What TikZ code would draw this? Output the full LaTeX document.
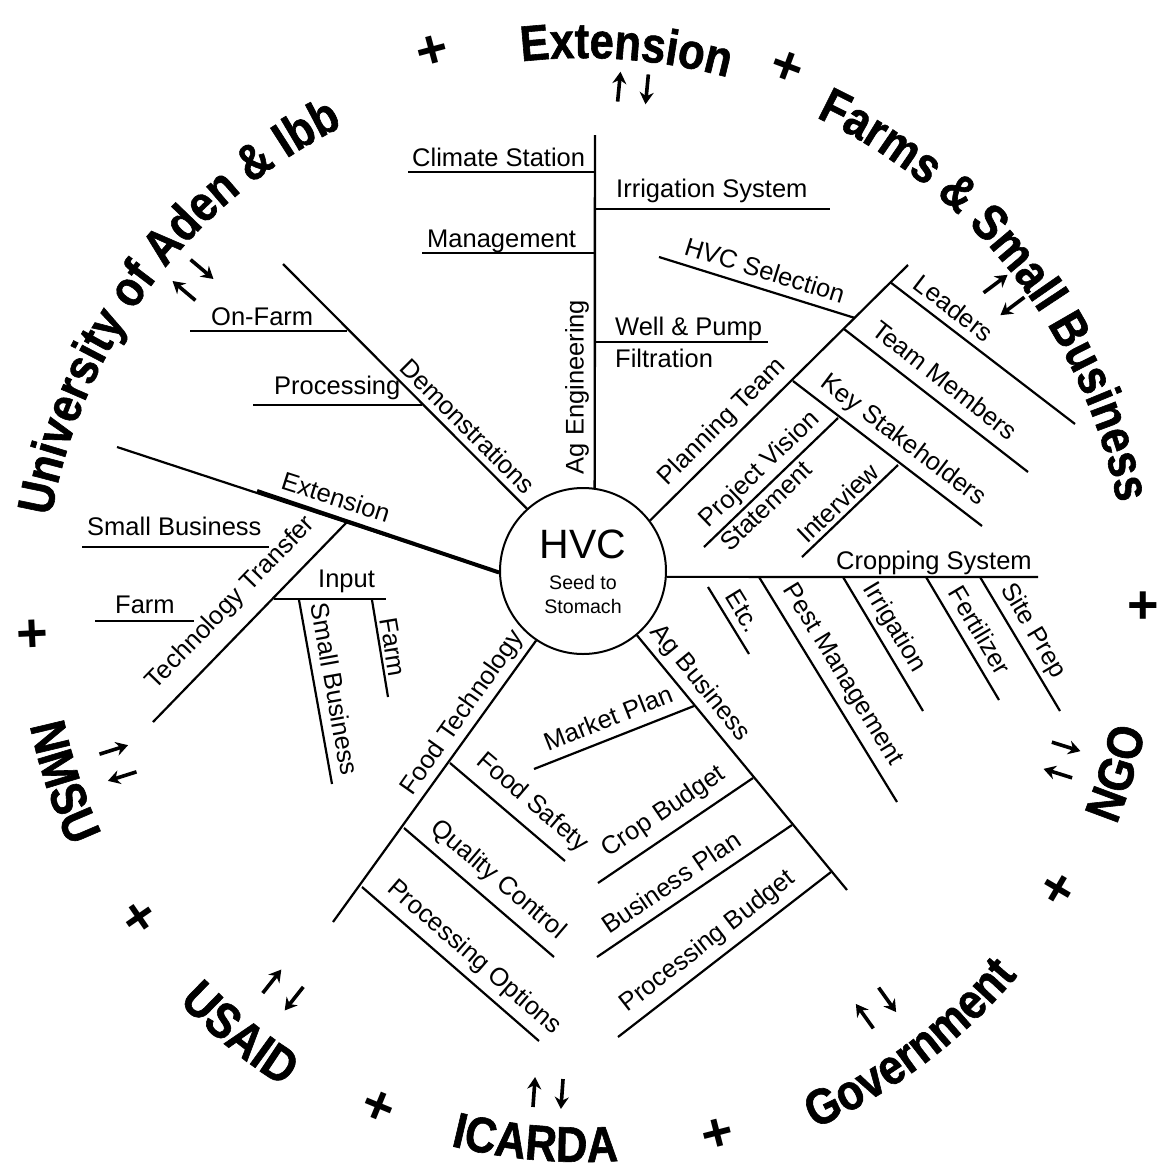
\documentclass[tikz,border=0pt]{standalone}
\usepackage{fontspec}
\setmainfont{Liberation Sans}
\newfontfamily\outerfont{Liberation Sans}[FakeStretch=0.87, FakeBold=1.2]
\usetikzlibrary{decorations.text,arrows.meta}
\newcommand\ofnt{\outerfont\bfseries\fontsize{50}{50}\selectfont}
\tikzset{
  lab/.style={font=\fontsize{25.5}{30}\selectfont, inner sep=0pt},
  ln/.style={line width=2.2pt},
  arr/.style={line width=3.6pt, -{Stealth[length=12pt,width=14pt]}},
  plusmark/.style={font=\bfseries\fontsize{54}{54}\selectfont, inner sep=0pt},
  toplabel/.style={decorate, decoration={text along path, text={|\ofnt|#1}, text align=center}},
}
\begin{document}
\begin{tikzpicture}[x=1pt,y=-1pt]
\fill[white] (0,0) rectangle (1157,1171);
\useasboundingbox (0,0) rectangle (1157,1171);

% ---------- centre ----------
\node[circle, draw, line width=2pt, minimum size=166pt, inner sep=0pt] (hvc) at (583,571) {};
\node[font=\fontsize{41}{41}\selectfont, anchor=base, inner sep=0pt] (hvct) at (583,558) {HVC};
\node[font=\fontsize{19.6}{20}\selectfont, anchor=base, inner sep=0pt] (seed) at (583,589) {Seed to};
\node[font=\fontsize{19.6}{20}\selectfont, anchor=base, inner sep=0pt] (stom) at (583,613) {Stomach};

% ---------- coordinates ----------
\coordinate (agE) at (595,135);
\coordinate (cl1) at (408,172); \coordinate (cl2) at (595,172);
\coordinate (ir1) at (595,209); \coordinate (ir2) at (830,209);
\coordinate (mg1) at (422,253); \coordinate (mg2) at (595,253);
\coordinate (we1) at (595,342); \coordinate (we2) at (768,342);

\coordinate (dem) at (283,264);
\coordinate (of1) at (190,331); \coordinate (of2) at (347,331);
\coordinate (pr1) at (253,405); \coordinate (pr2) at (422,405);

\coordinate (ext) at (117,447); \coordinate (extk) at (257,491);
\coordinate (tt1) at (347,522); \coordinate (tt2) at (153,722);
\coordinate (sb1) at (82,547);  \coordinate (sb2) at (269,547);
\coordinate (fa1) at (95,621);  \coordinate (fa2) at (194,621);
\coordinate (in1) at (274,599); \coordinate (in2) at (386,599);
\coordinate (sv1) at (299,600); \coordinate (sv2) at (332,784);
\coordinate (fv1) at (372,600); \coordinate (fv2) at (388,697);

\coordinate (ftE) at (333,922);
\coordinate (fs1) at (450,763); \coordinate (fs2) at (565,861);
\coordinate (qc1) at (404,828); \coordinate (qc2) at (554,957);
\coordinate (po1) at (362,887); \coordinate (po2) at (539,1041);

\coordinate (abE) at (847,890);
\coordinate (mp1) at (694,706); \coordinate (mp2) at (534,769);
\coordinate (cb1) at (753,778); \coordinate (cb2) at (598,883);
\coordinate (bp1) at (792,825); \coordinate (bp2) at (597,957);
\coordinate (pb1) at (831,872); \coordinate (pb2) at (618,1037);

\coordinate (csE) at (1038,577);
\coordinate (et1) at (708,587); \coordinate (et2) at (749,654);
\coordinate (pm1) at (759,577); \coordinate (pm2) at (897,802);
\coordinate (ig1) at (843,577); \coordinate (ig2) at (923,711);
\coordinate (fe1) at (926,577); \coordinate (fe2) at (999,700);
\coordinate (sp1) at (980,577); \coordinate (sp2) at (1060,711);

\coordinate (ptE) at (908,265);
\coordinate (hs1) at (659,257); \coordinate (hs2) at (855,318);
\coordinate (le1) at (890,282); \coordinate (le2) at (1075,424);
\coordinate (tm1) at (844,329); \coordinate (tm2) at (1028,472);
\coordinate (ks1) at (793,381); \coordinate (ks2) at (982,526);
\coordinate (pv1) at (838,418); \coordinate (pv2) at (704,547);
\coordinate (iv1) at (898,465); \coordinate (iv2) at (802,557);

% ---------- lines ----------
\draw[ln, line width=2.4pt] (agE) -- (hvc.82.4);
\draw[ln] (cl1) -- (cl2);
\draw[ln] (ir1) -- (ir2);
\draw[ln] (mg1) -- (mg2);
\draw[ln] (we1) -- (we2);

\draw[ln] (dem) -- (hvc.132);
\draw[ln] (of1) -- (of2);
\draw[ln] (pr1) -- (pr2);

\draw[ln] (ext) -- (hvc.181);
\draw[line width=4pt] (extk) -- (hvc.181);
\draw[ln] (tt1) -- (tt2);
\draw[ln] (sb1) -- (sb2);
\draw[ln] (fa1) -- (fa2);
\draw[ln] (in1) -- (in2);
\draw[ln] (sv1) -- (sv2);
\draw[ln] (fv1) -- (fv2);

\draw[ln] (hvc.236.3) -- (ftE);
\draw[ln] (fs1) -- (fs2);
\draw[ln] (qc1) -- (qc2);
\draw[ln] (po1) -- (po2);

\draw[ln] (hvc.310) -- (abE);
\draw[ln] (mp1) -- (mp2);
\draw[ln] (cb1) -- (cb2);
\draw[ln] (bp1) -- (bp2);
\draw[ln] (pb1) -- (pb2);

\draw[ln] (hvc.356) -- (csE);
\draw[ln] (et1) -- (et2);
\draw[ln] (pm1) -- (pm2);
\draw[ln] (ig1) -- (ig2);
\draw[ln] (fe1) -- (fe2);
\draw[ln] (sp1) -- (sp2);

\draw[ln] (hvc.37) -- (ptE);
\draw[ln] (hs1) -- (hs2);
\draw[ln] (le1) -- (le2);
\draw[ln] (tm1) -- (tm2);
\draw[ln] (ks1) -- (ks2);
\draw[ln] (pv1) -- (pv2);
\draw[ln] (iv1) -- (iv2);

% ---------- horizontal labels ----------
\node[lab, anchor=base west] (tClimate) at (412,166) {Climate Station};
\node[lab, anchor=base west] (tIrrSys) at (616,197) {Irrigation System};
\node[lab, anchor=base west] (tMgmt) at (427,247) {Management};
\node[lab, anchor=base west] (tWell) at (615,335) {Well \& Pump};
\node[lab, anchor=base west] (tFilt) at (615,367) {Filtration};
\node[lab, anchor=base west] (tOnFarm) at (211,325) {On-Farm};
\node[lab, anchor=base west] (tProc) at (274,394) {Processing};
\node[lab, anchor=base west] (tSmallB) at (87,535) {Small Business};
\node[lab, anchor=base west] (tFarmH) at (115,613) {Farm};
\node[lab, anchor=base west] (tInput) at (318,587) {Input};
\node[lab, anchor=base west] (tCrop) at (836,569) {Cropping System};

% ---------- rotated labels ----------
\node[lab,rotate=90] (tAgE) at (577,387) {Ag Engineering};
\node[lab,rotate=-45] (tDemo) at (468,426) {Demonstrations};
\node[lab,rotate=-17.8] (tExt) at (336,497) {Extension};
\node[lab,rotate=45.9] (tTech) at (231,603) {Technology Transfer};
\node[lab,rotate=-79.8] (tSmallBv) at (335,689) {Small Business};
\node[lab,rotate=-80.5] (tFarmV) at (393,647) {Farm};
\node[lab,rotate=54.9] (tFoodT) at (463,713) {Food Technology};
\node[lab,rotate=-40.4] (tFoodS) at (532,803) {Food Safety};
\node[lab,rotate=-40.5] (tQual) at (498,880) {Quality Control};
\node[lab,rotate=-40.9] (tProcO) at (474,958) {Processing Options};
\node[lab,rotate=-50.6] (tAgB) at (700,683) {Ag Business};
\node[lab,rotate=21.6] (tMark) at (608,718) {Market Plan};
\node[lab,rotate=34.3] (tCropB) at (664,812) {Crop Budget};
\node[lab,rotate=34.2] (tBusP) at (671,882) {Business Plan};
\node[lab,rotate=37.9] (tProcB) at (708,942) {Processing Budget};
\node[lab,rotate=-58.5] (tEtc) at (743,611) {Etc.};
\node[lab,rotate=-58.5] (tPest) at (842,675) {Pest Management};
\node[lab,rotate=-59.2] (tIrr) at (894,628) {Irrigation};
\node[lab,rotate=-59.3] (tFert) at (980,630) {Fertilizer};
\node[lab,rotate=-59.3] (tSite) at (1033,631) {Site Prep};
\node[lab,rotate=45] (tPlan) at (722,422) {Planning Team};
\node[lab,rotate=-17.3] (tHVCS) at (765,270) {HVC Selection};
\node[lab,rotate=-37.5] (tLead) at (954,308) {Leaders};
\node[lab,rotate=-37.9] (tTeam) at (945,380) {Team Members};
\node[lab,rotate=-37.1] (tKey) at (903,441) {Key Stakeholders};
\node[lab,rotate=44] (tProj) at (760,470) {Project Vision};
\node[lab,rotate=44] (tStat) at (766,506) {Statement};
\node[lab,rotate=43.8] (tInt) at (838,503) {Interview};

% ---------- outer ring labels ----------
\coordinate (ring) at (583,610);
\path[toplabel={Extension}] (ring) ++(105.6:552pt) arc[start angle=105.6, end angle=65.6, radius=552pt];
\path[toplabel={Farms {\&} Small Business}] (ring) ++(78:545pt) arc[start angle=78, end angle=-2, radius=545pt];
\path[toplabel={University of Aden {\&} Ibb}] (ring) ++(183.2:540pt) arc[start angle=183.2, end angle=103.2, radius=540pt];
\path[toplabel={NMSU}] (ring) ++(186.3:565pt) arc[start angle=186.3, end angle=210.3, radius=565pt];
\path[toplabel={USAID}] (ring) ++(216:563pt) arc[start angle=216, end angle=246, radius=563pt];
\path[toplabel={ICARDA}] (ring) ++(249.9:552pt) arc[start angle=249.9, end angle=279.9, radius=552pt];
\path[toplabel={Government}] (ring) ++(287:568pt) arc[start angle=287, end angle=327, radius=568pt];
\path[toplabel={NGO}] (ring) ++(331:575pt) arc[start angle=331, end angle=355, radius=575pt];

% ---------- arrow pairs ----------
\foreach \px/\py/\ph in {633/88/-5.5, 1004/295/-53.2, 193/280/49.8, 1062/760/72.6, 876/1008/35.6, 548/1093/-4.1, 283/990/-38.3, 118/763/-72.5}{
  \begin{scope}[shift={(\px,\py)}, rotate=\ph]
    \draw[arr] (-14,15) -- (-14,-15);
    \draw[arr] (14,-15) -- (14,15);
  \end{scope}
}

% ---------- plus signs ----------
\node[plusmark, rotate=15] (p1) at (433,52) {+};
\node[plusmark, rotate=-20.6] (p2) at (787,68) {+};
\node[plusmark] (p3) at (1143,608) {+};
\node[plusmark, rotate=59.6] (p4) at (1060,890) {+};
\node[plusmark, rotate=14.4] (p5) at (718,1135) {+};
\node[plusmark, rotate=-22.4] (p6) at (378,1108) {+};
\node[plusmark, rotate=-55.4] (p7) at (137,918) {+};
\node[plusmark, rotate=2.7] (p8) at (33,636) {+};
\end{tikzpicture}
\end{document}
